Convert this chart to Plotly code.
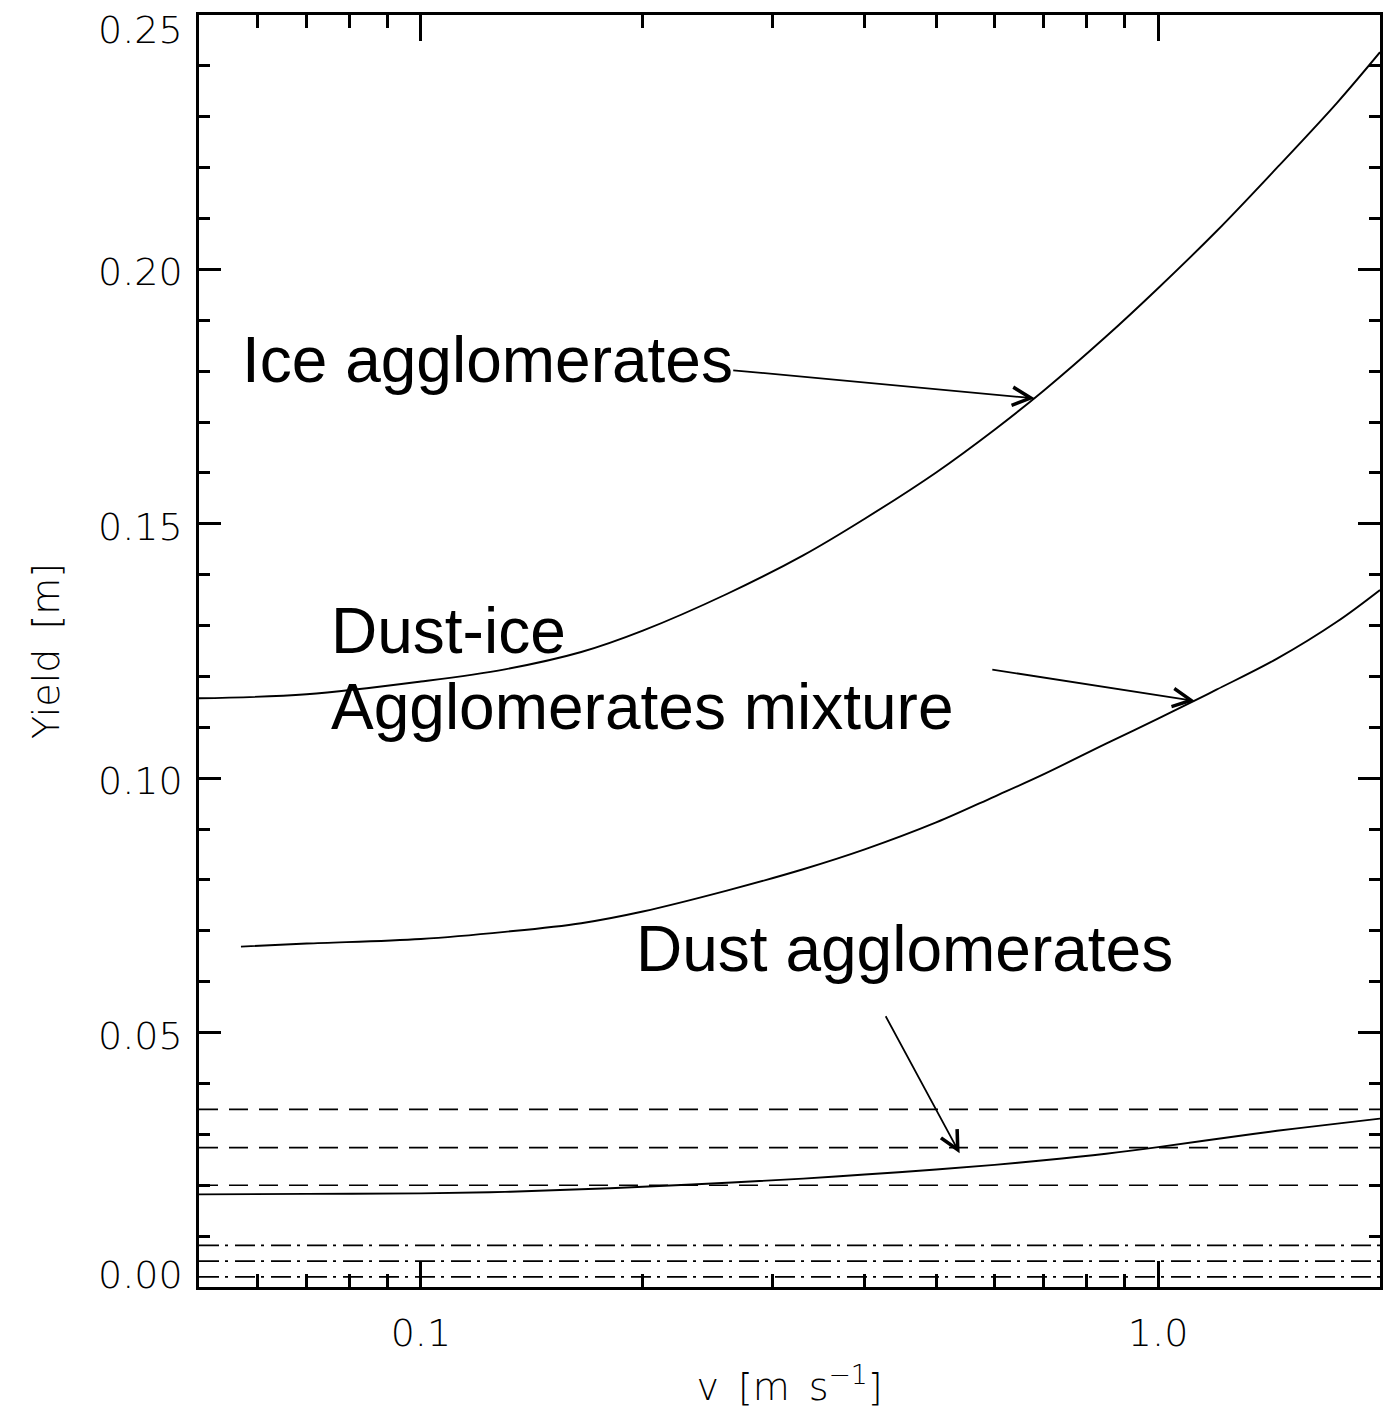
import numpy as np
import plotly.graph_objects as go

# Velocity grid [m/s] for the ice and dust curves
v_grid = [0.05, 0.07, 0.1, 0.13, 0.165, 0.2, 0.26, 0.33, 0.4, 0.5,
          0.6, 0.7, 0.85, 1.0, 1.2, 1.45, 1.75, 2.0]
yield_ice = [0.1157, 0.1165, 0.1190, 0.1214, 0.1248, 0.1290, 0.1362, 0.1438, 0.1510, 0.1601,
             0.1685, 0.1762, 0.1868, 0.1963, 0.2075, 0.2200, 0.2328, 0.2427]
yield_dust = [0.0182, 0.0183, 0.0184, 0.0187, 0.0192, 0.0197, 0.0205, 0.0213, 0.0221, 0.0231,
              0.0240, 0.0249, 0.0262, 0.0275, 0.0291, 0.0307, 0.0321, 0.0331]

# Dust-ice mixture (starts a little above the lower velocity bound)
v_mix = [0.057, 0.07, 0.1, 0.13, 0.165, 0.2, 0.26, 0.33, 0.4, 0.5,
         0.6, 0.7, 0.85, 1.0, 1.2, 1.45, 1.75, 2.0]
yield_mix = [0.0669, 0.0675, 0.0684, 0.0698, 0.0715, 0.0738, 0.0779, 0.0821, 0.0860, 0.0913,
             0.0964, 0.1008, 0.1068, 0.1117, 0.1174, 0.1235, 0.1308, 0.1370]

# Constant reference levels
dashed_levels = [0.0349, 0.0274, 0.0200]
dashdot_levels = [0.0082, 0.0051, 0.0020]

# Axis ticks
x_range = [0.05, 2.0]
x_tick_vals = [0.1, 1.0]
x_tick_text = ["0.1", "1.0"]
x_minor_vals = [0.06, 0.07, 0.08, 0.09, 0.2, 0.3, 0.4, 0.5, 0.6, 0.7, 0.8, 0.9]
y_tick_vals = [0.0, 0.05, 0.10, 0.15, 0.20, 0.25]
y_tick_text = ["0.00", "0.05", "0.10", "0.15", "0.20", "0.25"]

# Callout labels: (text, v at left edge, yield at text middle)
labels = [
    ("Ice agglomerates", 0.0568, 0.1822),
    ("Dust-ice", 0.0751, 0.1290),
    ("Agglomerates mixture", 0.0751, 0.1140),
    ("Dust agglomerates", 0.1946, 0.0664),
]
# Arrows: (tail v, tail yield, head v, head yield)
arrows = [
    (0.264, 0.1802, 0.680, float(np.interp(0.68, v_grid, yield_ice))),
    (0.593, 0.1214, 1.122, float(np.interp(1.122, v_mix, yield_mix))),
    (0.426, 0.0535, 0.538, 0.0263),
]

AXFONT = dict(family="DejaVu Sans", size=38, color="black", weight=200)
LBLFONT = dict(family="Liberation Sans, Arial", size=64, color="black")

fig = go.Figure()

for lvl in dashed_levels:
    fig.add_trace(go.Scatter(x=x_range, y=[lvl, lvl], mode="lines",
                             line=dict(color="black", width=1.7, dash="19px,11px"),
                             showlegend=False, hoverinfo="skip"))
for lvl in dashdot_levels:
    fig.add_trace(go.Scatter(x=x_range, y=[lvl, lvl], mode="lines",
                             line=dict(color="black", width=1.7, dash="20px,6px,3px,7px"),
                             showlegend=False, hoverinfo="skip"))

for xs, ys in [(v_grid, yield_ice), (v_mix, yield_mix), (v_grid, yield_dust)]:
    fig.add_trace(go.Scatter(x=xs, y=ys, mode="lines", line_shape="spline",
                             line=dict(color="black", width=1.9),
                             showlegend=False))

annotations = []
for text, vx, vy in labels:
    annotations.append(dict(text=text, x=np.log10(vx), y=vy, xref="x", yref="y",
                            xanchor="left", yanchor="middle", showarrow=False,
                            font=LBLFONT))
for tv, ty, hv, hy in arrows:
    annotations.append(dict(text="", x=np.log10(hv), y=hy, xref="x", yref="y",
                            ax=np.log10(tv), ay=ty, axref="x", ayref="y",
                            showarrow=True, arrowhead=5, arrowsize=2.0,
                            arrowwidth=1.8, arrowcolor="black", standoff=0))

# y tick labels sit inside the frame at the two ends of the axis
y_shift = {0.0: 12, 0.25: -15}
for val, txt in zip(y_tick_vals, y_tick_text):
    annotations.append(dict(text=txt, x=0, y=val, xref="paper", yref="y",
                            xanchor="right", yanchor="middle", xshift=-14,
                            yshift=y_shift.get(val, -3), showarrow=False,
                            font=AXFONT))

fig.update_layout(
    width=1386, height=1411,
    margin=dict(l=199, r=3, t=15, b=124),
    paper_bgcolor="white", plot_bgcolor="white",
    annotations=annotations,
    showlegend=False,
)

fig.update_xaxes(
    type="log", range=[np.log10(x_range[0]), np.log10(x_range[1])],
    showline=True, linecolor="black", linewidth=3, mirror="ticks",
    ticks="inside", ticklen=26, tickwidth=3, tickcolor="black",
    tickvals=x_tick_vals, ticktext=x_tick_text, tickfont=AXFONT,
    ticklabelstandoff=10,
    minor=dict(tickvals=x_minor_vals, ticks="inside", ticklen=13, tickwidth=3,
               tickcolor="black", showgrid=False),
    showgrid=False, zeroline=False,
    title=dict(text="v\u2002[m\u2002s<sup>\u22121</sup>]", font=AXFONT, standoff=20),
)
fig.update_yaxes(
    range=[0, 0.25],
    showline=True, linecolor="black", linewidth=3, mirror="ticks",
    ticks="inside", ticklen=22, tickwidth=3, tickcolor="black",
    tickvals=y_tick_vals, showticklabels=False,
    minor=dict(dtick=0.01, ticks="inside", ticklen=11, tickwidth=3,
               tickcolor="black", showgrid=False),
    showgrid=False, zeroline=False,
    title=dict(text="Yield\u2002[m]", font=AXFONT, standoff=125),
)

fig.write_html("out.html")
